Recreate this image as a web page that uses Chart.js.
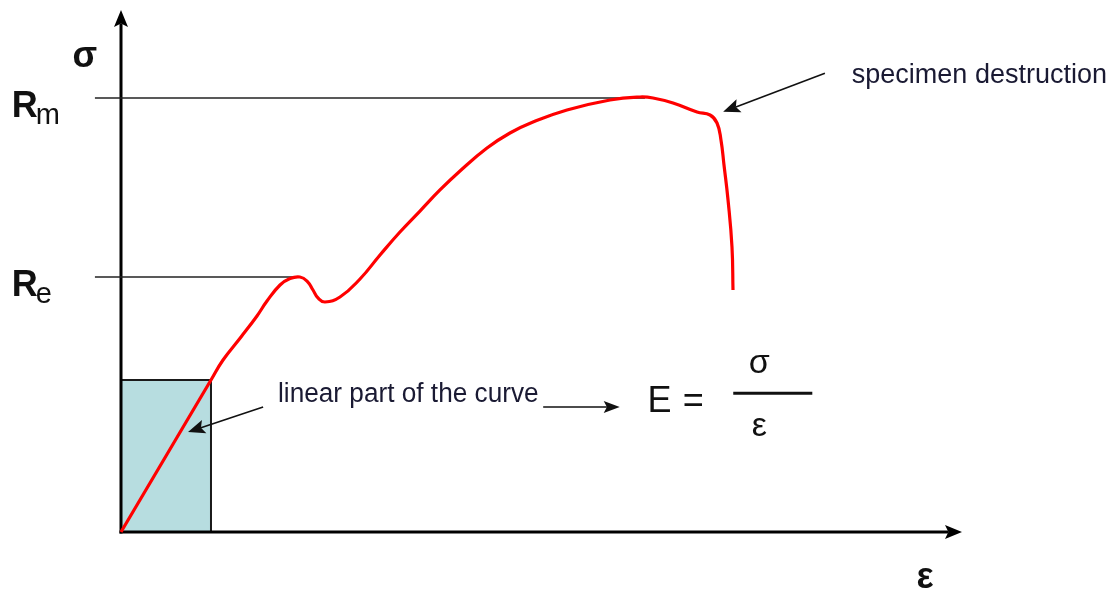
<!DOCTYPE html>
<html><head><meta charset="utf-8">
<script src="https://cdn.jsdelivr.net/npm/chart.js@4.4.1/dist/chart.umd.min.js"></script>
<style>html,body{margin:0;padding:0;background:#fff}#wrap{width:1117px;height:592px}</style>
</head><body><div id="wrap"><canvas id="c" width="1117" height="592"></canvas></div>
<script>
// Stress–strain curve (arbitrary units 0..100)
const strain = [0, 5.35, 10.70, 12.13, 14.27, 16.17, 17.36, 18.91, 20.10, 21.28, 22.12, 22.83, 23.42, 24.26, 26.04, 28.42, 30.80, 33.17, 35.55, 37.93, 40.31, 43.52, 46.25, 48.99, 53.03, 58.15, 61.71, 63.26, 65.64, 68.49, 70.04, 70.87, 71.34, 71.70, 72.18, 72.65, 72.77];
const stress = [0, 14.56, 29.12, 32.95, 37.36, 41.39, 44.25, 47.32, 48.56, 48.85, 48.08, 46.36, 44.83, 44.06, 45.02, 48.47, 53.07, 57.47, 61.49, 65.52, 69.16, 73.56, 76.44, 78.54, 80.84, 82.76, 83.33, 83.14, 82.18, 80.46, 79.89, 78.35, 75.10, 70.31, 63.60, 54.60, 46.36];
// Characteristic levels
const levelNames = ['R', 'R'];
const levelSubs = ['m', 'e'];
const levelValues = [83.14, 48.85];
const levelLineEnds = [62.3, 21.3];
const levelLineStart = -3.1;
// Linear region box
const linearBox = {x: 10.70, y: 29.12};
// Axis labels
const yAxisLabel = 'σ';
const xAxisLabel = 'ε';
const noteFracture = 'specimen destruction';
const noteLinear = 'linear part of the curve';

const curve = strain.map((x, i) => ({x, y: stress[i]}));

const X0 = 0, XMAX = 100, Y0 = 0, YMAX = 100;

function arrow(ctx, x1, y1, x2, y2, lw, head, hw) {
  const a = Math.atan2(y2 - y1, x2 - x1);
  ctx.save();
  ctx.lineWidth = lw;
  ctx.beginPath();
  ctx.moveTo(x1, y1);
  ctx.lineTo(x2 - Math.cos(a) * head * 0.8, y2 - Math.sin(a) * head * 0.8);
  ctx.stroke();
  ctx.beginPath();
  ctx.moveTo(x2, y2);
  ctx.lineTo(x2 - Math.cos(a) * head + Math.sin(a) * hw, y2 - Math.sin(a) * head - Math.cos(a) * hw);
  ctx.lineTo(x2 - Math.cos(a) * head * 0.8, y2 - Math.sin(a) * head * 0.8);
  ctx.lineTo(x2 - Math.cos(a) * head - Math.sin(a) * hw, y2 - Math.sin(a) * head + Math.cos(a) * hw);
  ctx.closePath();
  ctx.fill();
  ctx.restore();
}

const axesPlugin = {
  id: 'axesDraw',
  afterDatasetDraw(chart, args) {
    if (args.index !== 3) return;
    const ctx = chart.ctx, xs = chart.scales.x, ys = chart.scales.y;
    const ox = xs.getPixelForValue(X0), oy = ys.getPixelForValue(Y0);
    ctx.save();
    ctx.strokeStyle = '#000'; ctx.fillStyle = '#000';
    arrow(ctx, ox, oy + 1.5, ox, ys.getPixelForValue(YMAX), 3, 17, 7);
    arrow(ctx, ox - 1.5, oy, xs.getPixelForValue(XMAX), oy, 3, 17, 7);
    ctx.restore();
  },
  afterDraw(chart) {
    const ctx = chart.ctx, xs = chart.scales.x, ys = chart.scales.y;
    const px = v => xs.getPixelForValue(v), py = v => ys.getPixelForValue(v);
    ctx.save();
    ctx.fillStyle = '#111'; ctx.strokeStyle = '#111';
    ctx.textBaseline = 'alphabetic';
    // axis labels
    ctx.font = 'bold 36px "Liberation Sans", Arial, sans-serif';
    ctx.textAlign = 'center';
    ctx.fillText(yAxisLabel, px(-4.3), py(89.1));
    ctx.fillText(xAxisLabel, px(95.6), py(-10.7));
    // level labels
    levelValues.forEach((v, i) => {
      ctx.textAlign = 'left';
      ctx.font = 'bold 36px "Liberation Sans", Arial, sans-serif';
      const bx = px(-13.0), by = py(v) + 19;
      ctx.fillText(levelNames[i], bx, by);
      const w = ctx.measureText(levelNames[i]).width;
      ctx.font = '29px "Liberation Sans", Arial, sans-serif';
      ctx.fillText(levelSubs[i], bx + w - 2, by + 7);
    });
    // notes
    ctx.font = '27px "Liberation Sans", Arial, sans-serif';
    ctx.textAlign = 'left';
    ctx.fillStyle = '#1a1a33';
    ctx.fillText(noteFracture, px(86.9), py(86.0));
    ctx.save();
    ctx.translate(px(18.67), py(24.9));
    ctx.scale(0.97, 1);
    ctx.fillText(noteLinear, 0, 0);
    ctx.restore();
    ctx.fillStyle = '#111';
    arrow(ctx, px(83.7), py(87.9), px(71.6), py(80.5), 1.6, 17, 7);
    arrow(ctx, px(16.9), py(23.95), px(7.97), py(19.16), 1.6, 17, 7);
    arrow(ctx, px(50.2), py(23.95), px(59.3), py(23.95), 1.6, 16, 6);
    // formula E = σ / ε
    ctx.font = '36px "Liberation Sans", Arial, sans-serif';
    ctx.fillText('E', px(62.6), py(23.0));
    ctx.fillText('=', px(66.8), py(23.0));
    ctx.lineWidth = 3;
    ctx.beginPath(); ctx.moveTo(px(72.8), py(26.6)); ctx.lineTo(px(82.2), py(26.6)); ctx.stroke();
    ctx.textAlign = 'center';
    ctx.font = '34px "Liberation Sans", Arial, sans-serif';
    ctx.fillText('σ', px(75.9), py(30.5));
    ctx.fillText('ε', px(75.9), py(18.3));
    ctx.restore();
  }
};

const levelDatasets = levelValues.map((v, i) => ({
  data: [{x: levelLineStart, y: v}, {x: levelLineEnds[i], y: v}],
  borderColor: '#222', borderWidth: 1.6, pointRadius: 0, clip: false, fill: false, tension: 0
}));

new Chart(document.getElementById('c'), {
  type: 'line',
  data: {
    datasets: [
      { data: curve, borderColor: '#ff0000', borderWidth: 3.2, pointRadius: 0, fill: false,
        tension: 0.45, clip: false },
      levelDatasets[0],
      levelDatasets[1],
      { data: [{x: 0, y: linearBox.y}, {x: linearBox.x, y: linearBox.y}, {x: linearBox.x, y: 0}],
        borderColor: '#1a1a1a', borderWidth: 2, pointRadius: 0, tension: 0,
        backgroundColor: 'rgb(183,221,224)', fill: 'origin', clip: false }
    ]
  },
  options: {
    responsive: false, animation: false, devicePixelRatio: 1,
    layout: { padding: { left: 121, right: 155, top: 10, bottom: 60 } },
    plugins: { legend: { display: false }, tooltip: { enabled: false } },
    scales: {
      x: { type: 'linear', min: X0, max: XMAX, display: false },
      y: { type: 'linear', min: Y0, max: YMAX, display: false }
    }
  },
  plugins: [axesPlugin]
});
</script></body></html>
